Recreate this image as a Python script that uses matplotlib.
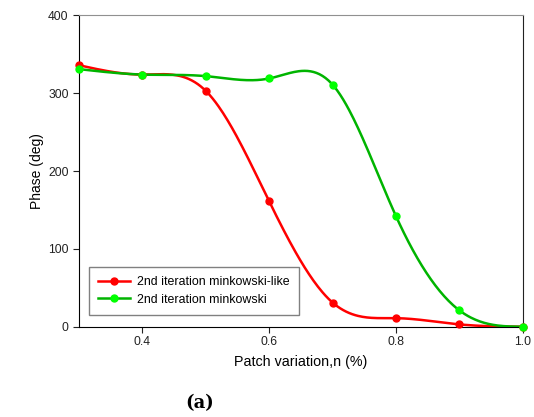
import matplotlib
matplotlib.use("Agg")
import matplotlib.pyplot as plt
import numpy as np

plt.rcParams['font.family'] = ['Liberation Sans', 'DejaVu Sans']

# data
patch = [0.3, 0.4, 0.5, 0.6, 0.7, 0.8, 0.9, 1.0]
phase_like = [336, 324, 303, 161, 31, 11, 3, 0]
phase_mink = [331, 324, 322, 319, 311, 142, 21, 0]
labels = ["2nd iteration minkowski-like", "2nd iteration minkowski"]


def spline(x, y, n=300):
    # natural cubic spline, like the smoothed curves in the original
    x = np.asarray(x, float)
    y = np.asarray(y, float)
    m = len(x)
    h = np.diff(x)
    A = np.zeros((m, m))
    b = np.zeros(m)
    A[0, 0] = A[-1, -1] = 1
    for i in range(1, m - 1):
        A[i, i - 1] = h[i - 1]
        A[i, i] = 2 * (h[i - 1] + h[i])
        A[i, i + 1] = h[i]
        b[i] = 3 * ((y[i + 1] - y[i]) / h[i] - (y[i] - y[i - 1]) / h[i - 1])
    c = np.linalg.solve(A, b)
    xs = np.linspace(x[0], x[-1], n)
    idx = np.clip(np.searchsorted(x, xs) - 1, 0, m - 2)
    dx = xs - x[idx]
    bb = (y[idx + 1] - y[idx]) / h[idx] - h[idx] * (2 * c[idx] + c[idx + 1]) / 3
    dd = (c[idx + 1] - c[idx]) / (3 * h[idx])
    return xs, y[idx] + bb * dx + c[idx] * dx ** 2 + dd * dx ** 3


fig = plt.figure(figsize=(5.34, 4.17), dpi=100)
ax = fig.add_axes([0.148, 0.2165, 0.831, 0.7465])

xs, ys = spline(patch, phase_like)
ax.plot(xs, ys, color='#ff0000', lw=1.8, zorder=3)
ax.plot(patch, phase_like, 'o', color='#ff0000', ms=5, zorder=4, clip_on=False)
xs, ys = spline(patch, phase_mink)
ax.plot(xs, ys, color='#00b400', lw=1.8, zorder=3)
ax.plot(patch, phase_mink, 'o', color='#00ff00', ms=5, zorder=4, clip_on=False)

# legend proxies
ax.plot([], [], '-o', color='#ff0000', mfc='#ff0000', mec='#ff0000', ms=5, lw=1.8, label=labels[0])
ax.plot([], [], '-o', color='#00b400', mfc='#00ff00', mec='#00ff00', ms=5, lw=1.8, label=labels[1])
leg = ax.legend(loc='lower left', bbox_to_anchor=(0.0225, 0.0376), borderaxespad=0,
                fontsize=8.9, fancybox=False, edgecolor='#808080', framealpha=1,
                handlelength=2.6, handletextpad=0.5, borderpad=0.75, labelspacing=0.45)
leg.get_frame().set_linewidth(1.0)

ax.set_xlim(0.3, 1.0)
ax.set_ylim(0, 400)
ax.set_xticks([0.4, 0.6, 0.8, 1.0])
ax.set_yticks([0, 100, 200, 300, 400])
ax.tick_params(direction='out', length=4, labelsize=8.7, colors='#222222')
ax.tick_params(axis='x', pad=2.5)
ax.spines['top'].set_color('#909090')
ax.spines['right'].set_color('#222222')
ax.set_xlabel("Patch variation,n (%)", fontsize=10.3, labelpad=5)
ax.set_ylabel("Phase (deg)", fontsize=10, labelpad=3)

fig.text(0.373, 0.033, "(a)", fontsize=13, fontweight='bold',
         family=['DejaVu Serif'], ha='center', va='center')

fig.savefig("out.png", dpi=100)
